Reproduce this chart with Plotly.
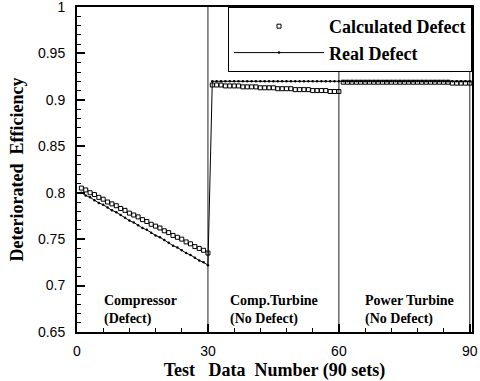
import plotly.graph_objects as go

test_no = list(range(1, 91))

calc_defect = [
    # Compressor (defect)
    0.805, 0.803, 0.800, 0.798, 0.795, 0.793, 0.790, 0.788, 0.786, 0.783,
    0.781, 0.778, 0.776, 0.774, 0.771, 0.769, 0.766, 0.764, 0.762, 0.759,
    0.757, 0.754, 0.752, 0.750, 0.747, 0.745, 0.742, 0.740, 0.738, 0.735,
    # Comp. turbine (no defect)
    0.916, 0.916, 0.916, 0.915, 0.915, 0.915, 0.915, 0.914, 0.914, 0.914,
    0.914, 0.913, 0.913, 0.913, 0.913, 0.912, 0.912, 0.912, 0.912, 0.911,
    0.911, 0.911, 0.911, 0.910, 0.910, 0.910, 0.910, 0.909, 0.909, 0.909,
    # Power turbine (no defect)
    0.919, 0.919, 0.919, 0.919, 0.919, 0.919, 0.919, 0.919, 0.919, 0.919,
    0.919, 0.919, 0.919, 0.919, 0.919, 0.919, 0.919, 0.919, 0.919, 0.919,
    0.919, 0.919, 0.919, 0.919, 0.919, 0.918, 0.918, 0.918, 0.918, 0.918,
]

real_defect = [
    0.800, 0.797, 0.795, 0.792, 0.789, 0.787, 0.784, 0.781, 0.779, 0.776,
    0.773, 0.770, 0.768, 0.765, 0.762, 0.760, 0.757, 0.754, 0.752, 0.749,
    0.746, 0.743, 0.741, 0.738, 0.735, 0.733, 0.730, 0.727, 0.725, 0.722,
    0.920, 0.920, 0.920, 0.920, 0.920, 0.920, 0.920, 0.920, 0.920, 0.920,
    0.920, 0.920, 0.920, 0.920, 0.920, 0.920, 0.920, 0.920, 0.920, 0.920,
    0.920, 0.920, 0.920, 0.920, 0.920, 0.920, 0.920, 0.920, 0.920, 0.920,
    0.920, 0.920, 0.920, 0.920, 0.920, 0.920, 0.920, 0.920, 0.920, 0.920,
    0.920, 0.920, 0.920, 0.920, 0.920, 0.920, 0.920, 0.920, 0.920, 0.920,
    0.920, 0.920, 0.920, 0.920, 0.920, 0.920, 0.920, 0.920, 0.920, 0.920,
]

boundaries = [30, 60, 90]
region_x = [5.7, 34.6, 65.5]
region_names = ["Compressor", "Comp.Turbine", "Power Turbine"]
region_states = ["(Defect)", "(No Defect)", "(No Defect)"]

x_ticks = [0, 30, 60, 90]
y_ticks = [0.65, 0.7, 0.75, 0.8, 0.85, 0.9, 0.95, 1]
y_tick_text = ["0.65", "0.7", "0.75", "0.8", "0.85", "0.9", "0.95", "1"]

SERIF = "Liberation Serif"
NB = "\u00a0"

fig = go.Figure()
fig.add_trace(go.Scatter(
    x=test_no, y=calc_defect, mode="markers", name="<b>Calculated Defect</b>",
    marker=dict(symbol="square-open", size=4, color="black", line=dict(width=1, color="black")),
))
fig.add_trace(go.Scatter(
    x=test_no, y=real_defect, mode="lines+markers", name="<b>Real Defect</b>",
    line=dict(color="black", width=1),
    marker=dict(symbol="circle", size=2.5, color="black"),
))

for b in boundaries:
    fig.add_shape(type="line", x0=b, x1=b, y0=0.65, y1=1, xref="x", yref="y",
                  line=dict(color="#222", width=1), layer="below")

for rx, name, state in zip(region_x, region_names, region_states):
    fig.add_annotation(x=rx, y=0.6735, xref="x", yref="y",
                       text="<b>" + name + "<br>" + state + "</b>",
                       showarrow=False, xanchor="left", yanchor="middle", align="left",
                       font=dict(family=SERIF, size=14, color="black"))

axis_common = dict(
    showline=True, linecolor="black", linewidth=2, mirror=True,
    showgrid=False, zeroline=False, ticks="inside", tickcolor="black",
    ticklen=8, tickwidth=2, automargin=False, ticklabeloverflow="allow",
    tickfont=dict(family="Liberation Sans", size=14, color="black"),
)

fig.update_xaxes(
    range=[0, 90.5], tickvals=x_ticks, ticklabelstandoff=5,
    minor=dict(dtick=6, ticks="inside", ticklen=4, tickcolor="black", tickwidth=1),
    title=dict(text="<b>Test" + NB * 3 + "Data" + NB * 2 + "Number (90 sets)</b>",
               font=dict(family=SERIF, size=18, color="black"), standoff=10),
    **axis_common,
)
fig.update_yaxes(
    range=[0.65, 1], tickvals=y_ticks, ticktext=y_tick_text, ticklabelstandoff=7,
    minor=dict(dtick=0.01, ticks="inside", ticklen=4, tickcolor="black", tickwidth=1),
    title=dict(text="<b>Deteriorated" + NB * 2 + "Efficiency</b>",
               font=dict(family=SERIF, size=18, color="black"), standoff=10),
    **axis_common,
)

fig.update_layout(
    width=480, height=381,
    margin=dict(l=77, r=8, t=7, b=49),
    paper_bgcolor="white", plot_bgcolor="white",
    showlegend=True,
    legend=dict(
        x=1, y=1, xanchor="right", yanchor="top",
        bgcolor="white", bordercolor="black", borderwidth=1,
        font=dict(family=SERIF, size=18, color="black"), itemwidth=90, tracegroupgap=0,
    ),
)

fig.write_html("out.html", config={"displayModeBar": False},
               post_script="document.body.style.margin='0';")
